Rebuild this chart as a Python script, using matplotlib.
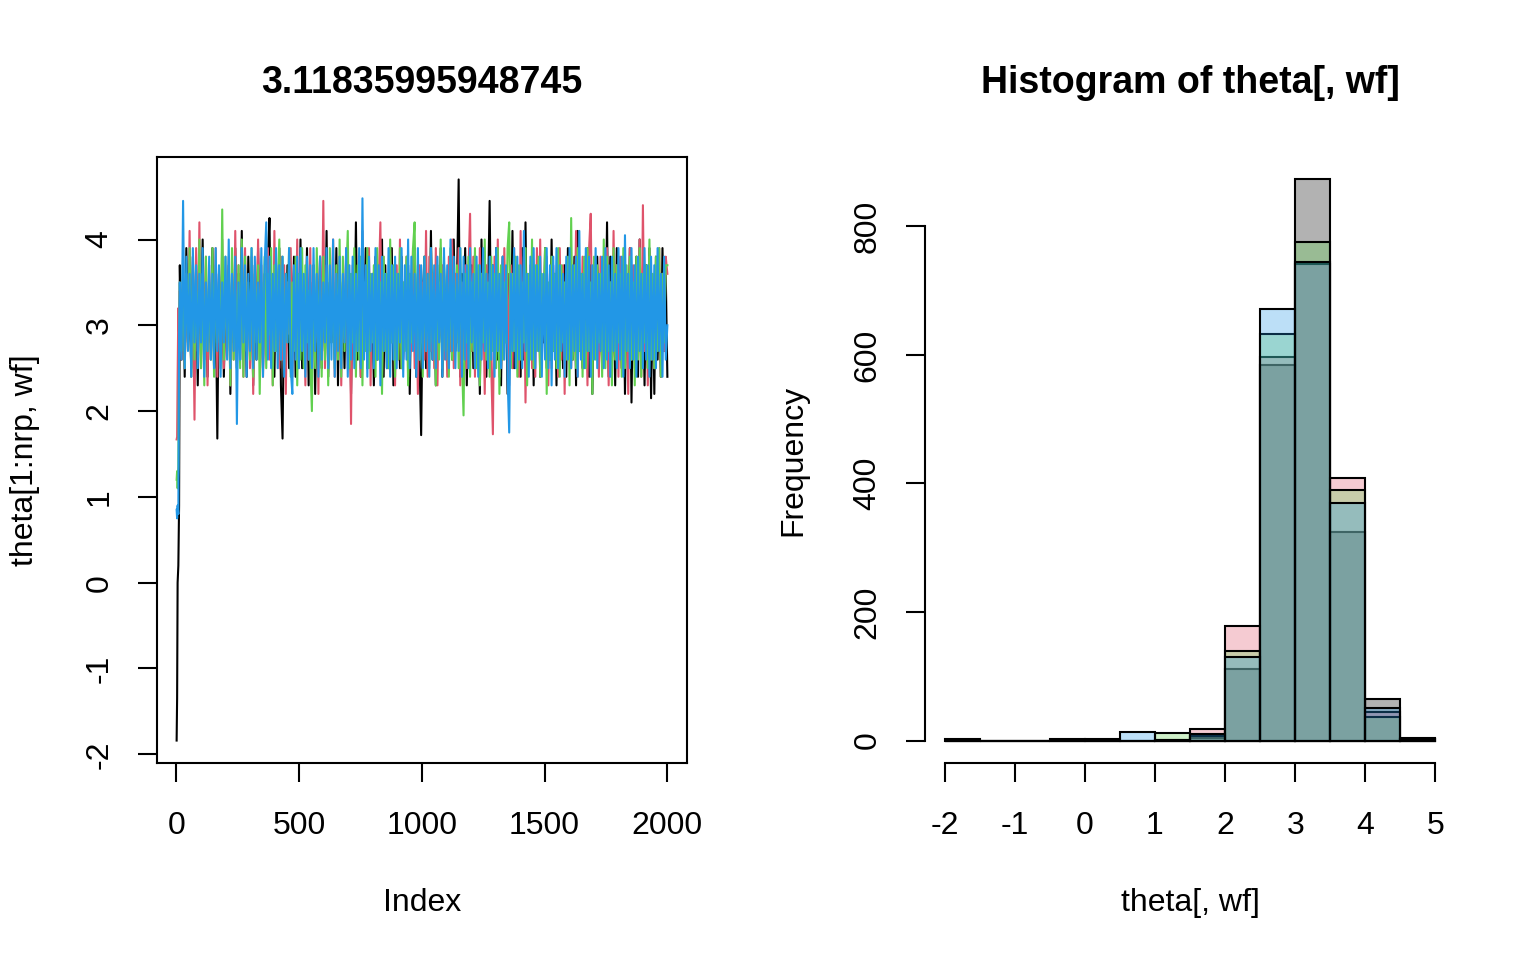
import numpy as np
import matplotlib
matplotlib.use('Agg')
import matplotlib.pyplot as plt

plt.rcParams['font.family'] = ['Liberation Sans', 'DejaVu Sans']
plt.rcParams['axes.unicode_minus'] = False
plt.rcParams['path.simplify'] = False

# ---------------- data ----------------
chain_colors = ['#000000', '#DF536B', '#61D04F', '#2297E6']

burn_idx = [1, 3, 5, 8, 11]
burn_black = [-1.84, -1.34, 0.0, 0.2, 0.9]
burn_red = [1.67, 1.70, 2.4, 3.2, 2.9]
burn_green = [1.2, 1.3, 1.1, 1.35, 2.6]
burn_blue = [0.85, 0.75, 0.9, 0.8, 2.9]

trace_black = [
    3.7, 2.6, 3.5, 2.4, 3.9, 2.8, 3.3, 2.5, 3.8, 2.7,
    3.4, 2.3, 3.6, 2.9, 4.0, 2.6, 3.5, 2.4, 3.2, 2.8,
    3.9, 2.5, 3.4, 1.68, 3.6, 2.7, 3.8, 2.4, 3.3, 2.9,
    3.7, 2.2, 3.5, 2.8, 3.9, 2.5, 3.6, 2.6, 4.1, 2.7,
    3.4, 2.4, 3.8, 2.9, 3.5, 2.3, 3.7, 2.6, 3.9, 2.8,
    3.3, 2.5, 3.6, 2.7, 3.8, 4.25, 2.6, 3.5, 2.4, 3.7,
    2.8, 3.9, 2.3, 1.68, 3.4, 2.6, 3.7, 2.5, 3.5, 2.9,
    3.8, 2.4, 3.6, 2.7, 4.0, 2.5, 3.3, 2.8, 3.9, 2.3,
    3.5, 2.6, 3.7, 2.2, 3.4, 2.9, 3.8, 2.5, 3.6, 2.7,
    4.1, 2.4, 3.5, 2.8, 3.3, 2.6, 3.9, 2.3, 3.7, 2.9,
    3.4, 2.5, 3.8, 2.7, 3.6, 2.2, 3.5, 2.8, 4.2, 2.6,
    3.7, 2.4, 3.3, 2.9, 3.9, 2.5, 3.6, 2.7, 3.4, 2.3,
    3.8, 2.6, 3.5, 2.8, 4.0, 2.4, 3.7, 2.5, 3.3, 2.9,
    3.9, 2.3, 3.6, 2.7, 3.5, 2.5, 3.8, 2.6, 3.4, 2.8,
    3.7, 2.2, 3.5, 2.9, 3.9, 2.4, 3.6, 2.6, 1.72, 3.3,
    3.8, 2.5, 3.4, 2.7, 4.1, 2.6, 3.6, 2.3, 3.5, 2.8,
    3.9, 2.4, 3.7, 2.9, 3.3, 2.5, 3.8, 2.6, 4.0, 2.7,
    3.5, 4.70, 2.4, 3.6, 2.8, 3.9, 2.3, 3.4, 2.7, 3.7,
    2.5, 3.8, 2.6, 3.5, 2.2, 4.0, 2.8, 3.6, 2.4, 3.3,
    4.45, 2.7, 3.7, 2.5, 3.9, 2.6, 3.5, 2.3, 3.8, 2.9,
    3.4, 2.2, 3.6, 2.7, 4.1, 2.5, 3.7, 2.8, 3.5, 2.4,
    3.9, 2.6, 4.2, 2.5, 3.4, 2.7, 3.8, 2.3, 3.6, 2.9,
    3.7, 2.4, 3.5, 2.8, 3.9, 2.5, 3.3, 2.6, 4.0, 2.7,
    3.6, 2.3, 3.8, 2.9, 3.4, 2.5, 3.7, 2.4, 3.9, 2.8,
    3.5, 2.6, 3.8, 2.3, 4.1, 2.7, 3.6, 2.5, 3.4, 2.8,
    3.9, 2.4, 3.7, 2.2, 3.5, 2.9, 3.8, 2.6, 3.3, 2.5,
    3.6, 2.7, 4.2, 2.4, 3.8, 2.6, 3.5, 2.3, 3.9, 2.8,
    3.4, 2.5, 3.7, 2.2, 3.6, 2.7, 3.9, 2.1, 3.5, 2.6,
    3.8, 2.4, 4.0, 2.7, 3.6, 2.3, 3.7, 2.5, 3.9, 2.15,
    3.5, 2.2, 3.8, 2.6, 3.4, 2.4, 3.9, 2.7, 3.6, 2.4,
]
trace_red = [
    3.4, 2.6, 3.8, 2.5, 3.6, 2.8, 4.1, 2.4, 3.5, 1.90,
    3.9, 2.7, 4.2, 2.5, 3.6, 2.9, 3.8, 2.3, 3.7, 2.6,
    3.5, 2.8, 3.9, 2.4, 3.6, 2.7, 4.0, 2.5, 3.4, 2.9,
    3.8, 2.3, 3.6, 2.6, 4.1, 2.5, 3.7, 2.8, 3.5, 2.4,
    3.9, 2.7, 3.4, 2.5, 3.8, 2.2, 3.6, 2.9, 4.0, 2.6,
    3.7, 2.4, 3.5, 2.8, 3.9, 2.6, 3.6, 2.3, 4.1, 2.7,
    3.4, 2.5, 3.8, 2.6, 3.7, 2.2, 3.5, 2.9, 3.9, 2.4,
    3.6, 2.7, 4.0, 2.5, 3.8, 2.8, 3.4, 2.3, 3.7, 2.6,
    3.9, 2.4, 3.5, 2.8, 3.6, 2.2, 3.8, 2.7, 4.45, 2.5,
    3.7, 2.6, 3.4, 2.9, 4.0, 2.4, 3.6, 2.7, 3.8, 2.3,
    3.5, 2.8, 3.9, 2.5, 3.6, 1.85, 3.7, 2.6, 3.4, 2.9,
    3.8, 2.4, 4.1, 2.7, 3.5, 2.5, 3.9, 2.3, 3.6, 2.8,
    3.7, 2.6, 3.5, 4.2, 2.4, 3.8, 2.7, 3.4, 2.5, 3.9,
    2.8, 3.6, 2.3, 3.7, 2.6, 4.0, 2.5, 3.5, 2.9, 3.8,
    2.4, 3.6, 2.7, 3.9, 2.5, 3.4, 2.2, 3.7, 2.8, 3.5,
    2.6, 4.1, 2.4, 3.8, 2.7, 3.6, 2.5, 3.9, 2.3, 3.5,
    2.9, 3.7, 2.6, 3.4, 2.4, 3.8, 2.7, 4.0, 2.5, 3.6,
    2.8, 3.9, 2.3, 3.5, 2.6, 3.7, 2.5, 3.6, 4.3, 2.7,
    3.8, 2.4, 3.5, 2.8, 3.9, 2.6, 3.4, 2.2, 3.7, 2.9,
    3.6, 2.5, 1.73, 3.8, 2.7, 4.0, 2.4, 3.5, 2.6, 3.9,
    2.8, 3.6, 2.3, 3.7, 2.5, 3.9, 2.7, 3.4, 2.4, 4.1,
    2.6, 3.8, 2.1, 3.5, 2.8, 3.7, 2.5, 3.6, 2.4, 3.9,
    2.7, 4.0, 2.6, 3.5, 2.9, 3.8, 2.3, 3.6, 2.5, 3.7,
    2.8, 3.4, 2.4, 3.9, 2.6, 3.7, 2.2, 3.5, 2.7, 3.8,
    2.5, 3.6, 2.9, 4.1, 2.4, 3.5, 2.7, 3.8, 2.6, 3.4,
    2.3, 3.9, 4.3, 2.6, 3.7, 2.8, 3.5, 2.4, 3.8, 2.5,
    3.6, 2.7, 3.9, 2.3, 3.5, 2.6, 4.1, 2.8, 3.7, 2.4,
    3.8, 2.5, 3.6, 2.9, 3.4, 2.2, 3.9, 2.6, 3.7, 2.5,
    3.5, 2.8, 4.0, 2.4, 4.4, 2.7, 3.6, 2.3, 3.8, 2.6,
    3.5, 2.5, 3.7, 2.8, 3.9, 2.4, 3.6, 2.7, 3.8, 3.6,
]
trace_green = [
    3.5, 2.7, 3.8, 2.5, 3.6, 2.9, 3.9, 2.4, 3.7, 2.6,
    3.4, 2.8, 4.0, 2.5, 3.6, 2.3, 3.8, 2.7, 3.5, 2.6,
    3.9, 2.4, 3.7, 2.8, 3.5, 2.5, 4.35, 2.6, 3.8, 2.7,
    3.6, 2.3, 3.9, 2.6, 3.4, 2.8, 3.7, 2.5, 4.0, 2.4,
    3.8, 2.7, 3.5, 2.6, 3.9, 2.4, 3.6, 2.8, 3.7, 2.2,
    3.5, 2.6, 3.8, 2.5, 3.6, 2.9, 3.9, 2.3, 3.7, 2.7,
    3.4, 4.0, 2.6, 3.8, 2.5, 3.6, 2.8, 3.9, 2.4, 3.5,
    2.7, 3.8, 2.3, 3.6, 2.6, 3.9, 2.5, 3.7, 2.8, 3.4,
    2.6, 2.0, 3.7, 2.5, 3.9, 2.7, 3.5, 2.4, 3.8, 2.6,
    3.6, 2.3, 3.9, 2.8, 3.5, 2.5, 3.7, 2.6, 4.0, 2.4,
    3.8, 2.7, 3.5, 4.1, 2.5, 3.6, 2.8, 3.9, 2.4, 3.7,
    2.6, 3.8, 2.3, 3.5, 2.7, 3.9, 2.5, 3.6, 2.8, 3.7,
    2.4, 3.9, 2.6, 3.5, 2.2, 3.8, 2.7, 3.6, 2.5, 4.0,
    2.8, 3.7, 2.4, 3.6, 2.6, 3.9, 2.5, 3.5, 2.7, 3.8,
    2.3, 3.6, 2.8, 3.9, 4.2, 2.5, 3.7, 2.6, 3.5, 2.4,
    3.8, 2.7, 3.6, 2.5, 3.9, 2.8, 3.4, 2.3, 3.7, 2.6,
    4.0, 2.5, 3.8, 2.7, 3.5, 2.4, 3.9, 2.6, 3.6, 2.8,
    3.7, 2.5, 3.9, 2.6, 1.95, 3.6, 2.8, 3.8, 2.4, 3.5,
    2.7, 3.9, 2.5, 3.7, 2.3, 3.6, 2.8, 4.0, 2.6, 3.5,
    2.4, 3.8, 2.7, 3.6, 2.5, 3.9, 2.2, 3.7, 2.6, 3.5,
    2.8, 3.9, 4.2, 2.5, 3.6, 2.7, 3.8, 2.4, 3.7, 2.6,
    3.5, 2.8, 3.9, 2.3, 3.6, 2.6, 4.0, 2.5, 3.7, 2.7,
    3.8, 2.4, 3.6, 2.9, 3.9, 2.2, 3.5, 2.6, 3.8, 2.7,
    3.6, 2.5, 3.9, 2.4, 3.7, 2.8, 3.5, 2.6, 3.8, 2.3,
    4.25, 2.6, 3.7, 2.5, 3.9, 2.7, 3.6, 2.4, 3.8, 2.5,
    3.9, 2.7, 3.5, 2.2, 3.8, 2.6, 3.7, 2.8, 3.6, 2.4,
    4.0, 2.5, 3.8, 2.7, 3.5, 2.3, 3.9, 2.6, 3.7, 2.8,
    3.6, 2.4, 3.9, 2.5, 3.7, 2.7, 3.8, 2.6, 3.5, 2.3,
    3.8, 2.6, 3.9, 2.4, 3.6, 2.8, 3.7, 2.5, 4.0, 2.6,
    3.6, 2.5, 3.8, 2.7, 3.9, 2.4, 3.6, 2.8, 3.7, 3.7,
]
trace_blue = [
    3.5, 2.6, 4.45, 2.5, 3.8, 2.7, 3.6, 2.4, 3.9, 2.8,
    3.7, 2.5, 3.6, 2.8, 3.9, 2.4, 3.5, 2.7, 3.8, 2.6,
    3.6, 2.5, 3.9, 2.7, 3.7, 2.4, 3.5, 2.8, 3.8, 2.6,
    4.0, 2.5, 3.6, 2.7, 3.8, 1.85, 3.5, 2.6, 3.9, 2.8,
    3.7, 2.4, 3.6, 2.7, 3.9, 2.5, 3.8, 2.6, 3.5, 2.8,
    3.9, 2.4, 3.7, 4.2, 2.6, 3.8, 2.5, 3.6, 2.7, 3.9,
    2.5, 3.7, 2.6, 3.8, 2.4, 3.6, 2.8, 3.9, 2.5, 2.2,
    3.7, 2.6, 3.8, 2.5, 3.9, 2.7, 3.6, 2.4, 3.8, 2.6,
    3.7, 2.5, 3.9, 2.7, 3.6, 2.4, 3.8, 2.6, 3.5, 2.8,
    3.9, 2.5, 3.7, 2.6, 4.0, 2.4, 3.6, 2.7, 3.8, 2.5,
    3.6, 2.8, 3.9, 2.4, 3.7, 2.6, 3.8, 2.5, 3.6, 2.7,
    3.9, 2.5, 4.48, 2.6, 3.7, 2.4, 3.8, 2.7, 3.6, 2.5,
    3.9, 2.6, 3.7, 2.3, 3.8, 2.7, 3.6, 2.5, 3.9, 2.4,
    3.7, 2.6, 3.8, 2.5, 3.6, 2.8, 3.9, 2.4, 3.7, 2.6,
    4.0, 2.5, 3.8, 2.7, 3.6, 2.4, 3.9, 2.6, 3.7, 2.5,
    3.8, 2.7, 3.6, 2.4, 3.9, 2.6, 3.7, 2.5, 3.8, 2.8,
    3.6, 2.4, 3.9, 2.6, 3.7, 2.5, 4.0, 2.7, 3.8, 2.5,
    3.6, 2.7, 3.9, 2.4, 3.8, 2.6, 3.7, 2.5, 3.9, 2.8,
    3.6, 2.5, 3.8, 2.4, 3.7, 2.6, 3.9, 2.7, 3.6, 2.5,
    3.8, 2.6, 3.7, 2.4, 3.9, 2.7, 3.6, 2.5, 3.8, 2.6,
    3.7, 2.4, 1.75, 3.6, 2.7, 3.9, 2.5, 3.8, 2.6, 3.7,
    2.5, 4.1, 2.7, 3.6, 2.4, 3.8, 2.6, 3.9, 2.5, 3.7,
    2.7, 3.8, 2.4, 3.6, 2.6, 3.9, 2.5, 3.7, 2.3, 3.8,
    2.6, 3.9, 2.5, 3.7, 2.7, 3.6, 2.4, 3.8, 2.6, 3.9,
    2.5, 3.7, 2.7, 3.8, 2.4, 4.1, 2.6, 3.6, 2.5, 3.9,
    2.7, 3.8, 2.4, 3.7, 2.6, 3.9, 2.5, 3.6, 2.7, 3.8,
    2.5, 3.9, 2.6, 3.7, 2.4, 3.8, 2.7, 3.6, 2.5, 3.9,
    2.6, 3.8, 2.4, 4.05, 2.7, 3.6, 2.5, 3.9, 2.6, 3.7,
    2.4, 3.8, 2.7, 3.6, 2.5, 3.9, 2.6, 3.7, 2.4, 3.8,
    2.6, 3.7, 2.5, 3.9, 2.7, 3.6, 2.4, 3.8, 2.6, 3.0,
]
n_iter = 2000

# histogram (bin edges and per-chain counts)
hist_edges = [-2.0, -1.5, -1.0, -0.5, 0.0, 0.5, 1.0, 1.5, 2.0, 2.5, 3.0, 3.5, 4.0, 4.5, 5.0]
counts_black = [3, 0, 0, 2, 2, 0, 0, 4, 112, 585, 873, 325, 64, 4]
counts_red = [0, 0, 0, 0, 0, 0, 1, 18, 178, 596, 741, 408, 45, 2]
counts_green = [0, 0, 0, 0, 0, 0, 12, 7, 140, 632, 775, 390, 36, 3]
counts_blue = [0, 0, 0, 0, 0, 13, 1, 10, 130, 672, 745, 370, 51, 2]

title_left = '3.11835995948745'
title_right = 'Histogram of theta[, wf]'
xlabel_left = 'Index'
ylabel_left = 'theta[1:nrp, wf]'
xlabel_right = 'theta[, wf]'
ylabel_right = 'Frequency'

left_xticks = [0, 500, 1000, 1500, 2000]
left_yticks = [-2, -1, 0, 1, 2, 3, 4]
right_xticks = [-2, -1, 0, 1, 2, 3, 4, 5]
right_yticks = [0, 200, 400, 600, 800]

# ---------------- figure ----------------
W, H = 1536, 960
fig = plt.figure(figsize=(W / 100, H / 100), dpi=100)


def fx(px):
    return px / W


def fy(py):
    return 1 - py / H


ax1 = fig.add_axes([fx(157), fy(763), fx(687) - fx(157), fy(157) - fy(763)])
ax2 = fig.add_axes([fx(925), fy(763), fx(1455) - fx(925), fy(157) - fy(763)])

LW = 1.5
FS_TICK = 23
FS_TITLE = 27

# trace plot
N = len(trace_black)
idx = np.concatenate([np.array(burn_idx, float), np.linspace(14, n_iter, N)])
series = [
    burn_black + trace_black,
    burn_red + trace_red,
    burn_green + trace_green,
    burn_blue + trace_blue,
]
for vals, col in zip(series, chain_colors):
    ax1.plot(idx, vals, color=col, lw=LW)

allv = np.concatenate([np.array(s) for s in series])
ymin, ymax = allv.min(), allv.max()
ax1.set_xlim(1 - 0.04 * (n_iter - 1), n_iter + 0.04 * (n_iter - 1))
ax1.set_ylim(ymin - 0.04 * (ymax - ymin), ymax + 0.04 * (ymax - ymin))
ax1.set_xticks(left_xticks)
ax1.set_xticklabels([str(t) for t in left_xticks])
ax1.set_yticks(left_yticks)
ax1.set_yticklabels([str(t) for t in left_yticks], rotation=90, va='center')
for sp in ax1.spines.values():
    sp.set_linewidth(LW)

# histogram
edges = np.array(hist_edges)
width = np.diff(edges)
for cnts, col in zip([counts_black, counts_red, counts_green, counts_blue], chain_colors):
    ax2.bar(edges[:-1], cnts, width=width, align='edge', color=col, alpha=0.3,
            edgecolor='none', linewidth=0)
    ax2.bar(edges[:-1], cnts, width=width, align='edge', fill=False,
            edgecolor='black', linewidth=LW)

cmax = max(max(counts_black), max(counts_red), max(counts_green), max(counts_blue))
xr = edges[-1] - edges[0]
ax2.set_xlim(edges[0] - 0.04 * xr, edges[-1] + 0.04 * xr)
ax2.set_ylim(-0.04 * cmax, cmax * 1.04)
ax2.set_xticks(right_xticks)
ax2.set_xticklabels([str(t) for t in right_xticks])
ax2.set_yticks(right_yticks)
ax2.set_yticklabels([str(t) for t in right_yticks], rotation=90, va='center')
ax2.spines['top'].set_visible(False)
ax2.spines['right'].set_visible(False)
ax2.spines['left'].set_bounds(right_yticks[0], right_yticks[-1])
ax2.spines['bottom'].set_bounds(right_xticks[0], right_xticks[-1])
for sp in ax2.spines.values():
    sp.set_linewidth(LW)

for ax in (ax1, ax2):
    ax.tick_params(axis='both', direction='out', length=13.7, width=LW,
                   labelsize=FS_TICK, color='black')
    ax.tick_params(axis='x', pad=20.5)
    ax.tick_params(axis='y', pad=17)

# titles and labels
fig.text(fx(422), fy(83), title_left, ha='center', va='center',
         fontsize=FS_TITLE, fontweight='bold')
fig.text(fx(1190), fy(83), title_right, ha='center', va='center',
         fontsize=FS_TITLE, fontweight='bold')
fig.text(fx(422), fy(903), xlabel_left, ha='center', va='center', fontsize=FS_TICK)
fig.text(fx(1190), fy(903), xlabel_right, ha='center', va='center', fontsize=FS_TICK)
fig.text(fx(25), fy(460), ylabel_left, ha='center', va='center',
         fontsize=FS_TICK, rotation=90)
fig.text(fx(793), fy(460), ylabel_right, ha='center', va='center',
         fontsize=FS_TICK, rotation=90)

fig.savefig('out.png', dpi=100, facecolor='white')
